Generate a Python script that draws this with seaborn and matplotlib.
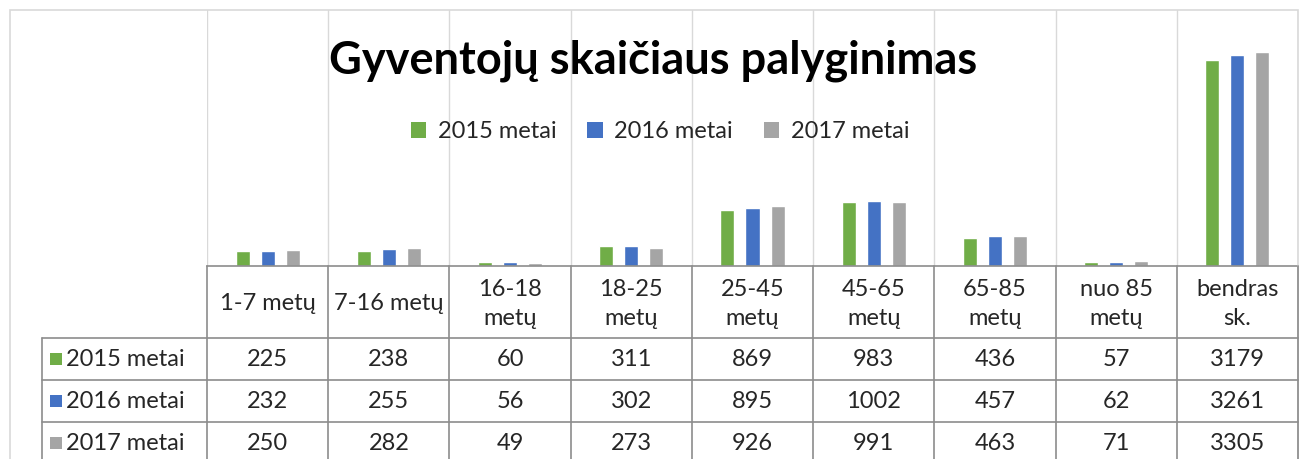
import numpy as np
import pandas as pd
import matplotlib
matplotlib.use('Agg')
import matplotlib.pyplot as plt
import seaborn as sns
from matplotlib.patches import Patch, Rectangle
from matplotlib.lines import Line2D

# data
categories = ['1-7 metų', '7-16 metų', '16-18 metų', '18-25 metų', '25-45 metų',
              '45-65 metų', '65-85 metų', 'nuo 85 metų', 'bendras sk.']
header_labels = ['1-7 metų', '7-16 metų', '16-18\nmetų', '18-25\nmetų', '25-45\nmetų',
                 '45-65\nmetų', '65-85\nmetų', 'nuo 85\nmetų', 'bendras\nsk.']
series = ['2015 metai', '2016 metai', '2017 metai']
v2015 = [225, 238, 60, 311, 869, 983, 436, 57, 3179]
v2016 = [232, 255, 56, 302, 895, 1002, 457, 62, 3261]
v2017 = [250, 282, 49, 273, 926, 991, 463, 71, 3305]
colors = ['#70AD47', '#4472C4', '#A5A5A5']

rows = []
for name, vals in zip(series, [v2015, v2016, v2017]):
    for c, v in zip(categories, vals):
        rows.append({'kat': c, 'metai': name, 'sk': v})
df = pd.DataFrame(rows)

sns.set_style('white')
plt.rcParams['font.family'] = ['Lato', 'DejaVu Sans']

W, H = 1300, 459
fig = plt.figure(figsize=(13, 4.59), dpi=100)

def fx(x):
    return x / W

def fy(y):
    return 1 - y / H

x0, x1, ytop, ybase = 207, 1298, 10, 266
ax = fig.add_axes([fx(x0), fy(ybase), fx(x1 - x0), (ybase - ytop) / H])

sns.barplot(data=df, x='kat', y='sk', hue='metai', order=categories, hue_order=series,
            palette=colors, width=0.62, gap=0.44, ax=ax, legend=False, saturation=1)
ax.set_xlim(-0.5, len(categories) - 0.5)
ax.set_ylim(0, 3950)
ax.set_xlabel('')
ax.set_ylabel('')
ax.set_yticks([])
ax.set_xticks([])
ax.set_xticks(np.arange(len(categories) + 1) - 0.5, minor=True)
ax.tick_params(which='both', length=0, labelbottom=False)
ax.grid(which='minor', axis='x', color='#D9D9D9', lw=1)
for s in ['top', 'left', 'right']:
    ax.spines[s].set_visible(False)
ax.spines['bottom'].set_color('#8C8C8C')
ax.spines['bottom'].set_linewidth(1.2)
ax.patch.set_alpha(0)

# outer chart border
fig.add_artist(Rectangle((fx(10), fy(470)), fx(1288), (470 - 10) / H, transform=fig.transFigure,
                         fill=False, edgecolor='#D9D9D9', lw=1.2))

fig.text(fx(653), fy(61), 'Gyventojų skaičiaus palyginimas', ha='center', va='center',
         fontsize=32.5, fontweight='bold', color='black')

handles = [Patch(facecolor=c, edgecolor='none') for c in colors]
fig.legend(handles, series, loc='center', bbox_to_anchor=(fx(660), fy(132)), ncol=3,
           frameon=False, fontsize=17, handlelength=0.65, handleheight=0.65,
           handletextpad=0.5, columnspacing=1.3)

# data table under the axis
line_c = '#8C8C8C'
fs = 17
colw = (x1 - x0) / len(categories)
row_y = [266, 338, 380, 422, 464]

def hline(xa, xb, y):
    fig.add_artist(Line2D([fx(xa), fx(xb)], [fy(y), fy(y)], transform=fig.transFigure,
                          color=line_c, lw=1.2))

def vline(x, ya, yb):
    fig.add_artist(Line2D([fx(x), fx(x)], [fy(ya), fy(yb)], transform=fig.transFigure,
                          color=line_c, lw=1.2))

for i in range(len(categories) + 1):
    vline(x0 + i * colw, 266, 470)
vline(42, 338, 470)
for y in row_y[1:4]:
    hline(42, x1, y)

for i, lab in enumerate(header_labels):
    fig.text(fx(x0 + (i + 0.5) * colw), fy(304), lab, ha='center', va='center',
             fontsize=fs, linespacing=1.45)

for r, (name, vals) in enumerate(zip(series, [v2015, v2016, v2017])):
    yc = (row_y[r + 1] + row_y[r + 2]) / 2
    fig.add_artist(Rectangle((fx(50), fy(yc + 6)), fx(12), 12 / H, transform=fig.transFigure,
                             facecolor=colors[r], edgecolor='none'))
    fig.text(fx(66), fy(yc), name, ha='left', va='center', fontsize=fs)
    for i, v in enumerate(vals):
        fig.text(fx(x0 + (i + 0.5) * colw), fy(yc), str(v), ha='center', va='center',
                 fontsize=fs)

fig.savefig('out.png', dpi=100)
